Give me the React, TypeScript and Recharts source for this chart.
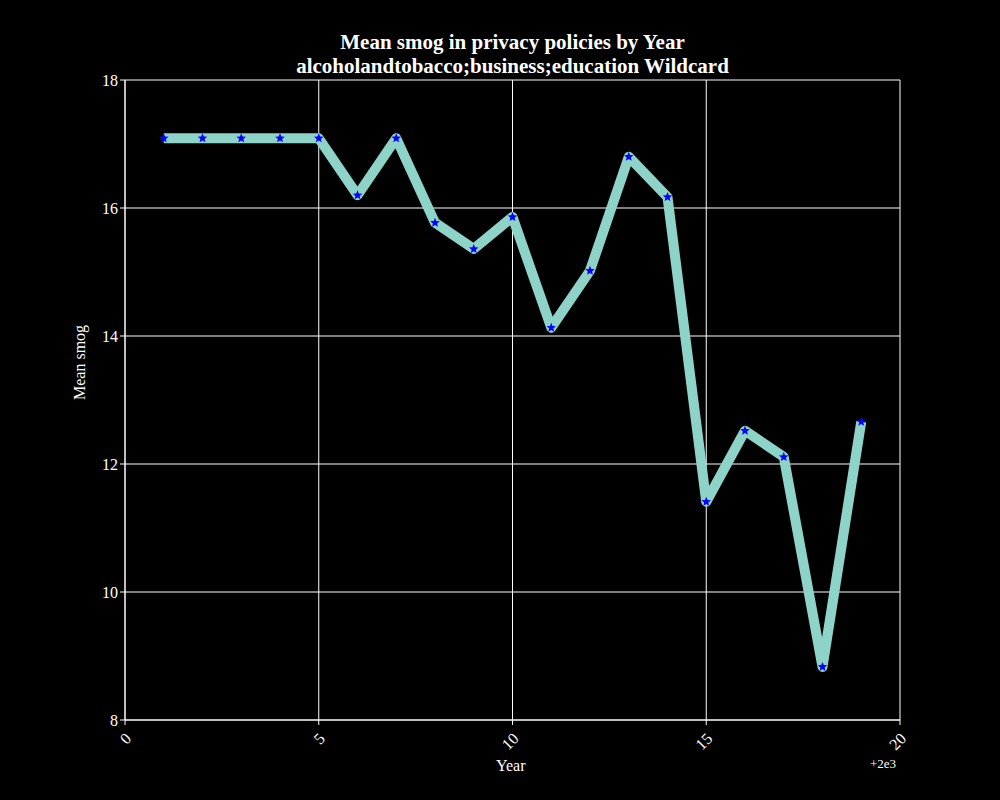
import { LineChart, Line, XAxis, YAxis, CartesianGrid } from 'recharts'

const years = [1, 2, 3, 4, 5, 6, 7, 8, 9, 10, 11, 12, 13, 14, 15, 16, 17, 18, 19]
const smog = [17.09, 17.09, 17.09, 17.09, 17.09, 16.2, 17.09, 15.77, 15.36, 15.86, 14.13, 15.02, 16.8, 16.17, 11.41, 12.52, 12.11, 8.83, 12.66]
const xTicks = [0, 5, 10, 15, 20]
const yTicks = [8, 10, 12, 14, 16, 18]

const data = years.map((y, i) => ({ year: y, smog: smog[i] }))

const font = '"Liberation Serif", "DejaVu Serif", serif'

const Star = (props: any) => {
  const { cx, cy } = props
  if (cx == null || cy == null) return null
  const pts: string[] = []
  for (let i = 0; i < 10; i++) {
    const r = i % 2 === 0 ? 5 : 2.2
    const a = (Math.PI / 5) * i - Math.PI / 2
    pts.push(`${cx + r * Math.cos(a)},${cy + r * Math.sin(a)}`)
  }
  return <polygon points={pts.join(' ')} fill="#0000ff" />
}

const XTick = (props: any) => {
  const { x, y, payload } = props
  return (
    <text x={x} y={y + 14} fill="#fff" fontSize={16} fontFamily={font}
      textAnchor="end" transform={`rotate(-45 ${x} ${y + 14})`} dx={6} dy={4}>
      {payload.value}
    </text>
  )
}

export default function App() {
  return (
    <div style={{ position: 'absolute', left: 0, top: 0, width: 1000, height: 800, background: '#000', fontFamily: font }}>
      <div style={{ position: 'absolute', top: 30, width: 1025, textAlign: 'center', color: '#fff', fontWeight: 'bold', fontSize: 21, lineHeight: '24px' }}>
        Mean smog in privacy policies by Year<br />alcoholandtobacco;business;education Wildcard
      </div>
      <LineChart width={1000} height={800} data={data} margin={{ top: 80, right: 100, bottom: 40, left: 65 }}>
        <CartesianGrid stroke="#fff" strokeOpacity={1} strokeWidth={1} vertical horizontal />
        <XAxis dataKey="year" type="number" domain={[0, 20]} ticks={xTicks} height={40}
          stroke="#fff" tick={<XTick />} tickSize={5} />
        <XAxis xAxisId="top" orientation="top" type="number" domain={[0, 20]} height={0}
          stroke="#fff" tick={false} tickLine={false} />
        <YAxis type="number" domain={[8, 18]} ticks={yTicks} width={60} stroke="#fff"
          tick={{ fill: '#fff', fontSize: 16, fontFamily: font }} tickSize={5}
          label={{ value: 'Mean smog', angle: -90, position: 'insideLeft', offset: 14, fill: '#fff', fontSize: 16, fontFamily: font }} />
        <YAxis yAxisId="right" orientation="right" domain={[8, 18]} width={0} stroke="#fff"
          tick={false} tickLine={false} />
        <Line dataKey="smog" stroke="#8dd3c7" strokeWidth={10} dot={<Star />}
          isAnimationActive={false} strokeLinejoin="round" />
      </LineChart>
      <div style={{ position: 'absolute', left: 496, top: 757, color: '#fff', fontSize: 16 }}>Year</div>
      <div style={{ position: 'absolute', left: 870, top: 756, color: '#fff', fontSize: 13 }}>+2e3</div>
    </div>
  )
}
